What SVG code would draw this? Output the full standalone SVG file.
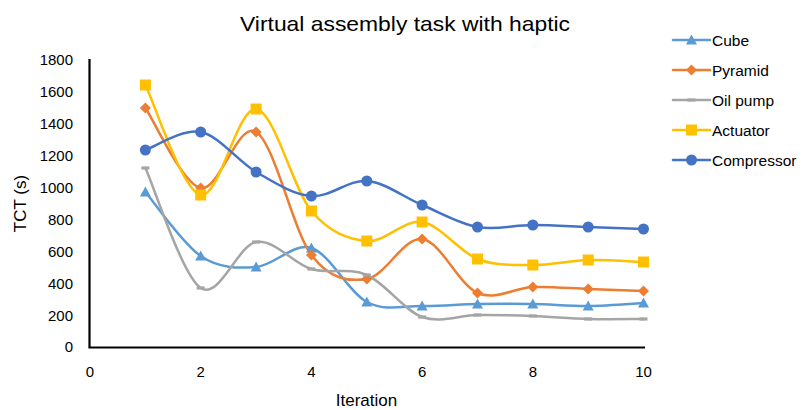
<svg xmlns="http://www.w3.org/2000/svg" xmlns:xlink="http://www.w3.org/1999/xlink" width="802" height="410" viewBox="0 0 802 410">
<style>
text{font-family:"Liberation Sans",Arial,sans-serif;fill:#000}
.title{font-size:21px}
.tick{font-size:15px}
.ytick{text-anchor:end}
.xtick{text-anchor:middle}
.axt{font-size:17px;text-anchor:middle}
.leg{font-size:15.5px}
.ln{fill:none;stroke-width:2.5;stroke-linejoin:round;stroke-linecap:round}
.s-cube{stroke:#5B9BD5}
.s-pyr{stroke:#ED7D31}
.s-oil{stroke:#A5A5A5}
.s-act{stroke:#FFC000}
.s-comp{stroke:#4472C4}
.f-cube{fill:#5B9BD5}
.f-pyr{fill:#ED7D31}
.f-oil{fill:#A5A5A5}
.f-act{fill:#FFC000}
.f-comp{fill:#4472C4}
.axis{fill:none;stroke:#000;stroke-width:2.2}
</style>
<defs>
<path id="mTri" d="M0,-5.5 L5.5,4.5 L-5.5,4.5 Z"/>
<path id="mDia" d="M0,-5.5 L5.5,0 L0,5.5 L-5.5,0 Z"/>
<rect id="mSq" x="-5.5" y="-5.5" width="11" height="11"/>
<circle id="mCir" r="5.5"/>
<rect id="mDash" x="-4" y="-1.6" width="8" height="3.2"/>
</defs>
<rect width="802" height="410" fill="#fff"/>
<text class="title" x="405" y="31" text-anchor="middle" textLength="330" lengthAdjust="spacingAndGlyphs">Virtual assembly task with haptic</text>
<g id="y-axis-labels" class="tick ytick">
<text x="73" y="352.4">0</text>
<text x="73" y="320.5">200</text>
<text x="73" y="288.6">400</text>
<text x="73" y="256.7">600</text>
<text x="73" y="224.8">800</text>
<text x="73" y="193">1000</text>
<text x="73" y="161.1">1200</text>
<text x="73" y="129.2">1400</text>
<text x="73" y="97.3">1600</text>
<text x="73" y="65.4">1800</text>
</g>
<g id="x-axis-labels" class="tick xtick">
<text x="90" y="377">0</text>
<text x="200.7" y="377">2</text>
<text x="311.4" y="377">4</text>
<text x="422.1" y="377">6</text>
<text x="532.8" y="377">8</text>
<text x="643.5" y="377">10</text>
</g>
<text class="axt" x="366.5" y="406">Iteration</text>
<text class="axt" transform="translate(26,203.5) rotate(-90)" font-size="16">TCT (s)</text>
<path class="axis" d="M89.5,59 V347.5 H645"/>
<g id="connectors">
<path id="line-cube" class="ln s-cube" d="M145.4,192 C154.6,202.7 182.3,243.5 200.7,256 C219.2,268.5 237.7,268.3 256.1,267 C274.6,265.7 293,242.2 311.4,248 C329.9,253.8 348.4,292.3 366.8,302 C385.3,311.7 403.7,305.7 422.1,306 C440.6,306.3 459.1,304.3 477.5,304 C496,303.7 514.4,303.7 532.8,304 C551.3,304.3 569.8,306.2 588.2,306 C606.7,305.8 634.3,303.5 643.5,303"/>
<path id="line-pyramid" class="ln s-pyr" d="M145.4,108 C154.6,121.3 182.3,184 200.7,188 C219.2,192 237.7,120.8 256.1,132 C274.6,143.2 293,230.5 311.4,255 C329.9,279.5 348.4,281.7 366.8,279 C385.3,276.3 403.7,236.7 422.1,239 C440.6,241.3 459.1,285 477.5,293 C496,301 514.4,287.7 532.8,287 C551.3,286.3 569.8,288.3 588.2,289 C606.7,289.7 634.3,290.7 643.5,291"/>
<path id="line-oilpump" class="ln s-oil" d="M145.4,168 C154.6,188 182.3,275.7 200.7,288 C219.2,300.3 237.7,245.2 256.1,242 C274.6,238.8 293,263.5 311.4,269 C329.9,274.5 348.4,267 366.8,275 C385.3,283 403.7,310.3 422.1,317 C440.6,323.7 459.1,315.2 477.5,315 C496,314.8 514.4,315.3 532.8,316 C551.3,316.7 569.8,318.5 588.2,319 C606.7,319.5 634.3,319 643.5,319"/>
<path id="line-actuator" class="ln s-act" d="M145.4,85 C154.6,103.3 182.3,191 200.7,195 C219.2,199 237.7,106.3 256.1,109 C274.6,111.7 293,189 311.4,211 C329.9,233 348.4,239.2 366.8,241 C385.3,242.8 403.7,219 422.1,222 C440.6,225 459.1,251.8 477.5,259 C496,266.2 514.4,264.8 532.8,265 C551.3,265.2 569.8,260.5 588.2,260 C606.7,259.5 634.3,261.7 643.5,262"/>
<path id="line-compressor" class="ln s-comp" d="M145.4,150 C154.6,147 182.3,128.3 200.7,132 C219.2,135.7 237.7,161.3 256.1,172 C274.6,182.7 293,194.5 311.4,196 C329.9,197.5 348.4,179.5 366.8,181 C385.3,182.5 403.7,197.3 422.1,205 C440.6,212.7 459.1,223.7 477.5,227 C496,230.3 514.4,225 532.8,225 C551.3,225 569.8,226.3 588.2,227 C606.7,227.7 634.3,228.7 643.5,229"/>
</g>
<g id="series-cube" class="f-cube">
<use href="#mTri" x="145.4" y="192"/><use href="#mTri" x="200.7" y="256"/><use href="#mTri" x="256.1" y="267"/><use href="#mTri" x="311.4" y="248"/><use href="#mTri" x="366.8" y="302"/><use href="#mTri" x="422.1" y="306"/><use href="#mTri" x="477.5" y="304"/><use href="#mTri" x="532.8" y="304"/><use href="#mTri" x="588.2" y="306"/><use href="#mTri" x="643.5" y="303"/>
</g>
<g id="series-pyramid" class="f-pyr">
<use href="#mDia" x="145.4" y="108"/><use href="#mDia" x="200.7" y="188"/><use href="#mDia" x="256.1" y="132"/><use href="#mDia" x="311.4" y="255"/><use href="#mDia" x="366.8" y="279"/><use href="#mDia" x="422.1" y="239"/><use href="#mDia" x="477.5" y="293"/><use href="#mDia" x="532.8" y="287"/><use href="#mDia" x="588.2" y="289"/><use href="#mDia" x="643.5" y="291"/>
</g>
<g id="series-oilpump" class="f-oil">
<use href="#mDash" x="145.4" y="168"/><use href="#mDash" x="200.7" y="288"/><use href="#mDash" x="256.1" y="242"/><use href="#mDash" x="311.4" y="269"/><use href="#mDash" x="366.8" y="275"/><use href="#mDash" x="422.1" y="317"/><use href="#mDash" x="477.5" y="315"/><use href="#mDash" x="532.8" y="316"/><use href="#mDash" x="588.2" y="319"/><use href="#mDash" x="643.5" y="319"/>
</g>
<g id="series-actuator" class="f-act">
<use href="#mSq" x="145.4" y="85"/><use href="#mSq" x="200.7" y="195"/><use href="#mSq" x="256.1" y="109"/><use href="#mSq" x="311.4" y="211"/><use href="#mSq" x="366.8" y="241"/><use href="#mSq" x="422.1" y="222"/><use href="#mSq" x="477.5" y="259"/><use href="#mSq" x="532.8" y="265"/><use href="#mSq" x="588.2" y="260"/><use href="#mSq" x="643.5" y="262"/>
</g>
<g id="series-compressor" class="f-comp">
<use href="#mCir" x="145.4" y="150"/><use href="#mCir" x="200.7" y="132"/><use href="#mCir" x="256.1" y="172"/><use href="#mCir" x="311.4" y="196"/><use href="#mCir" x="366.8" y="181"/><use href="#mCir" x="422.1" y="205"/><use href="#mCir" x="477.5" y="227"/><use href="#mCir" x="532.8" y="225"/><use href="#mCir" x="588.2" y="227"/><use href="#mCir" x="643.5" y="229"/>
</g>
<g id="legend">
<g id="legend-cube"><path class="ln s-cube" d="M673,40 H710"/><use class="f-cube" href="#mTri" x="691.5" y="40"/><text class="leg" x="712" y="45.5">Cube</text></g>
<g id="legend-pyramid"><path class="ln s-pyr" d="M673,70 H710"/><use class="f-pyr" href="#mDia" x="691.5" y="70"/><text class="leg" x="712" y="75.5">Pyramid</text></g>
<g id="legend-oilpump"><path class="ln s-oil" d="M673,100 H710"/><use class="f-oil" href="#mDash" x="691.5" y="100"/><text class="leg" x="712" y="105.5">Oil pump</text></g>
<g id="legend-actuator"><path class="ln s-act" d="M673,130 H710"/><use class="f-act" href="#mSq" x="691.5" y="130"/><text class="leg" x="712" y="135.5">Actuator</text></g>
<g id="legend-compressor"><path class="ln s-comp" d="M673,160 H710"/><use class="f-comp" href="#mCir" x="691.5" y="160"/><text class="leg" x="712" y="165.5">Compressor</text></g>
</g>
</svg>
